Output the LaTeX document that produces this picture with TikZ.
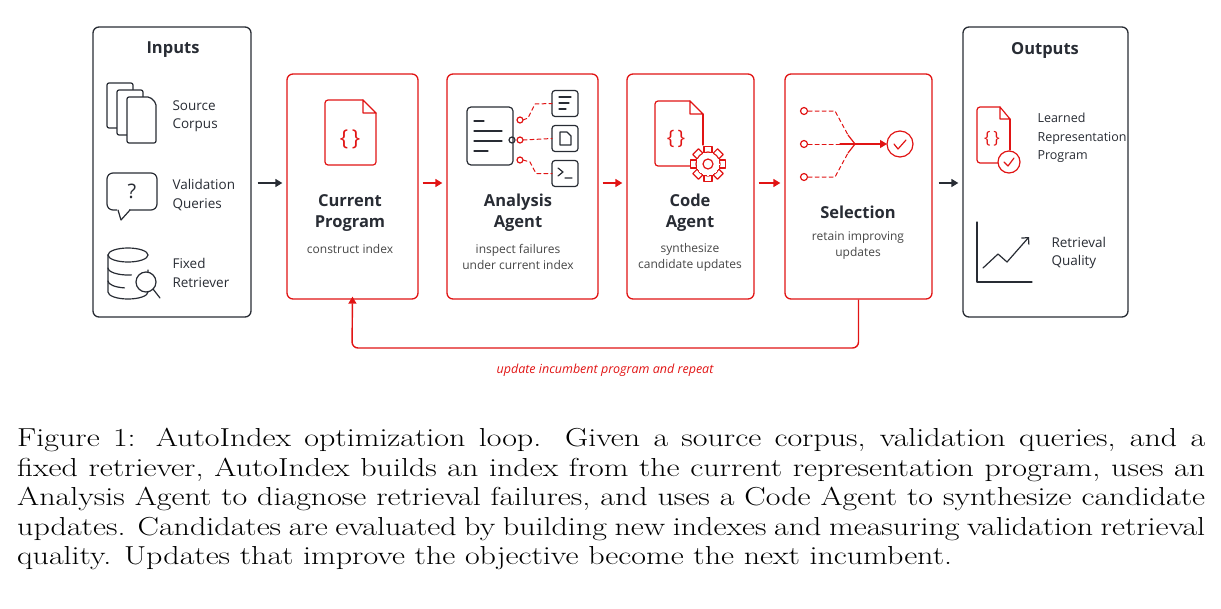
\documentclass[tikz,border=0pt]{standalone}
\usepackage{fontspec}
\newfontfamily\sans{Open Sans}
\newfontfamily\capf[FakeStretch=1.23]{Latin Modern Roman}
\usetikzlibrary{arrows.meta}
\definecolor{rd}{RGB}{225,20,20}
\definecolor{dk}{RGB}{40,44,52}
\definecolor{gr}{RGB}{70,70,70}
\begin{document}
\begin{tikzpicture}[x=1pt,y=-1pt,
 outer/.style={draw=dk,line width=1.3pt,rounded corners=6pt},
 stage/.style={draw=rd,line width=1.3pt,rounded corners=6pt},
 ttl/.style={font=\sans\fontsize{16.5}{21}\selectfont\bfseries,text=dk,align=center},
 sub/.style={font=\sans\fontsize{12}{16}\selectfont,text=gr,align=center},
 itm/.style={font=\sans\fontsize{13.5}{18.5}\selectfont,text=dk,align=left,anchor=west},
 ico/.style={line width=1.2pt,line join=round,line cap=round},
 rar/.style={draw=rd,line width=1.4pt,-{Triangle[length=7pt,width=8pt]}},
 dar/.style={draw=dk,line width=1.4pt,-{Triangle[length=7pt,width=8pt]}},
 dsh/.style={draw=rd,line width=1pt,dashed,dash pattern=on 4pt off 3pt}]
\useasboundingbox (0,0) rectangle (1221,608);
% outer boxes
\node[outer,minimum width=158pt,minimum height=290pt] (in) at (172,172) {};
\node[outer,minimum width=165pt,minimum height=290pt] (out) at (1045.5,172) {};
\node[stage,minimum width=131pt,minimum height=225pt] (cp) at (352.5,186.5) {};
\node[stage,minimum width=151pt,minimum height=225pt] (aa) at (522.5,186.5) {};
\node[stage,minimum width=127pt,minimum height=225pt] (ca) at (690.5,186.5) {};
\node[stage,minimum width=147pt,minimum height=225pt] (se) at (858.5,186.5) {};
% arrows
\draw[dar] ([xshift=6pt]in.east|-0,183) -- ([xshift=-4pt]cp.west|-0,183);
\draw[rar] ([xshift=4pt]cp.east|-0,183) -- ([xshift=-4pt]aa.west|-0,183);
\draw[rar] ([xshift=4pt]aa.east|-0,183) -- ([xshift=-4pt]ca.west|-0,183);
\draw[rar] ([xshift=4pt]ca.east|-0,183) -- ([xshift=-4pt]se.west|-0,183);
\draw[dar] ([xshift=6pt]se.east|-0,183) -- ([xshift=-4pt]out.west|-0,183);
\draw[rar,rounded corners=6pt] (se.south) -- (se.south|-0,348) -- (352,348) -- ([yshift=3pt]cp.south);
\node[font=\sans\itshape\fontsize{12.5}{15}\selectfont,text=rd] (lp) at (605,370) {update incumbent program and repeat};
% Inputs
\node[ttl] (tin) at (173,50) {Inputs};
\begin{scope}[ico,draw=dk]
 \draw[rounded corners=2pt] (107,83) rectangle (133,128);
 \draw[rounded corners=2pt,fill=white] (117,90) rectangle (143,135);
 \draw[rounded corners=2pt,fill=white] (127,97) -- (150,97) -- (156,103) -- (156,143) -- (127,143) -- cycle;
 \draw[rounded corners=6pt] (107,173) rectangle (157,210);
 \draw[fill=white,draw=white] (118,209) rectangle (128,212);
 \draw (118,210) -- (121,220) -- (130,210);
 \node[font=\sans\fontsize{20}{20}\selectfont,text=dk] at (132,191) {?};
 \draw (128,255) ellipse (20pt and 7pt);
 \draw (108,255) -- (108,292) arc (180:360:20pt and 7pt) -- (148,270);
 \draw (108,268) arc (180:280:20pt and 7pt);
 \draw (108,281) arc (180:260:20pt and 7pt);
 \draw[fill=white] (146,282) circle (10pt);
 \draw (153,289) -- (160,298);
\end{scope}
\node[itm] (i1) at (169,116) {Source\\Corpus};
\node[itm] (i2) at (169,195) {Validation\\Queries};
\node[itm] (i3) at (169,273) {Fixed\\Retriever};
% Current program icon
\begin{scope}[ico,draw=rd]
 \draw[rounded corners=3pt] (363,100) -- (325,100) -- (325,165) -- (376,165) -- (376,113);
 \draw (363,100) -- (363,113) -- (376,113) -- cycle;
 \node[font=\sans\fontsize{22}{22}\selectfont,text=rd] at (350,139) {\{\,\}};
\end{scope}
\node[ttl] (t1) at (350,213) {Current\\Program};
\node[sub] (s1) at (350,249) {construct index};
% Analysis icon
\begin{scope}[ico,draw=dk]
 \draw[rounded corners=4pt] (467,107) rectangle (513,165);
 \draw (474,121) -- (484,121) (474,131) -- (502,131) (474,141) -- (502,141) (474,151) -- (488,151);
 \draw (512,140) circle (3pt);
 \foreach \y in {103.5,138.5,173.5} \draw[rounded corners=3pt] (552,\y-13) rectangle (578,\y+13);
 \draw (559,97) -- (571,97) (559,103) -- (569,103) (559,109) -- (566,109);
 \draw (560,145) -- (560,132) -- (567,132) -- (571,136) -- (571,145) -- cycle;
 \draw (558,168) -- (563,172) -- (558,176) (565,178) -- (572,178);
\end{scope}
\begin{scope}[ico,draw=rd]
 \draw (520,120) circle (3pt) (520,140) circle (3pt) (520,160) circle (3pt);
 \draw[dsh] (523,120) -- (528,118) -- (535,104) -- (552,103.5);
 \draw[dsh] (523,140) -- (552,138.5);
 \draw[dsh] (523,160) -- (530,162) -- (536,173.5) -- (552,173.5);
\end{scope}
\node[ttl] (t2) at (518,213) {Analysis\\Agent};
\node[sub] (s2) at (518,257) {inspect failures\\under current index};
% Code agent icon
\begin{scope}[ico,draw=rd]
 \draw[rounded corners=3pt] (690,101) -- (655,101) -- (655,166) -- (690,166);
 \draw (703,145) -- (703,114);
 \draw (690,101) -- (690,114) -- (703,114) -- cycle;
 \node[font=\sans\fontsize{20}{20}\selectfont,text=rd] at (676,139) {\{\,\}};
 \foreach \a in {0,45,...,315} \draw[rotate around={\a:(708,164)},fill=white] (704,146.5) rectangle (712,153);
 \draw[fill=white] (708,164) circle (12pt);
 \draw[draw=white,fill=white,line width=0pt] (708,164) circle (11pt);
 \draw (708,164) circle (5pt);
\end{scope}
\node[ttl] (t3) at (690,213) {Code\\Agent};
\node[sub] (s3) at (690,257) {synthesize\\candidate updates};
% Selection icon
\begin{scope}[ico,draw=rd]
 \foreach \y in {111,144,177} \draw (804,\y) circle (3.5pt);
 \draw[dsh] (808,111) -- (835,111) -- (848,135);
 \draw[dsh] (808,177) -- (835,177) -- (848,153);
 \draw[dsh] (808,144) -- (840,144);
 \draw[rar,line width=1.2pt] (840,144) -- (887,144);
 \draw (848,135) -- (855,144) -- (848,153);
 \draw (900,144) circle (13pt);
 \draw (894,144) -- (898,149) -- (906,140);
\end{scope}
\node[ttl] (t4) at (858,212) {Selection};
\node[sub] (s4) at (858,246) {retain improving\\updates};
% Outputs
\node[ttl] (tout) at (1045,50) {Outputs};
\begin{scope}[ico,draw=rd]
 \draw[rounded corners=3pt] (1000,107) -- (977,107) -- (977,163) -- (998,163);
 \draw (1010,119) -- (1010,150);
 \draw (1000,107) -- (1000,119) -- (1010,119) -- cycle;
 \node[font=\sans\fontsize{17}{17}\selectfont,text=rd] at (992,139) {\{\,\}};
 \draw[fill=white] (1009,162) circle (11pt);
 \draw (1004,162) -- (1008,166) -- (1014,158);
\end{scope}
\node[itm,font=\sans\fontsize{12.5}{18.5}\selectfont] (o1) at (1034,138) {Learned\\Representation\\Program};
\begin{scope}[ico,draw=dk]
 \draw (977,222) -- (977,282) -- (1032,282);
 \draw[-{Straight Barb[length=5pt]}] (983,268) -- (998,254) -- (1007,262) -- (1029,237);
\end{scope}
\node[itm] (o2) at (1048,253) {Retrieval\\Quality};
% caption
\node[anchor=north west,text width=1188pt,align=justify,inner sep=0pt,font=\capf\fontsize{26}{29.5}\selectfont] (cap) at (17,428)
{\hyphenpenalty=10000 \tolerance=9999 Figure 1: AutoIndex optimization loop. Given a source corpus, validation queries, and a fixed retriever, AutoIndex builds an index from the current representation program, uses an Analysis Agent to diagnose retrieval failures, and uses a Code Agent to synthesize candidate updates. Candidates are evaluated by building new indexes and measuring validation retrieval quality. Updates that improve the objective become the next incumbent.};
\end{tikzpicture}
\end{document}
